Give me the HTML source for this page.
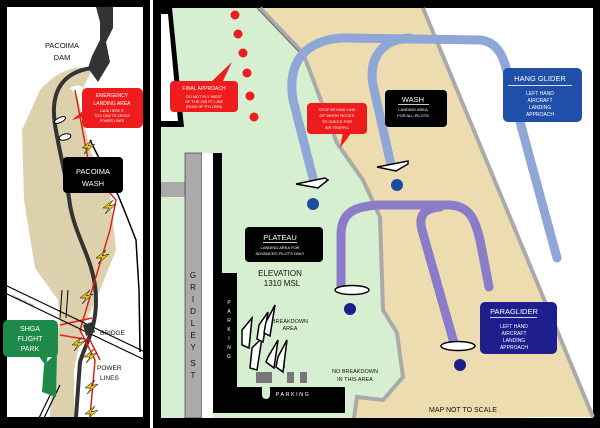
<!DOCTYPE html>
<html><head><meta charset="utf-8"><style>
html,body{margin:0;padding:0;background:#000;}
svg{display:block;}
text{font-family:"Liberation Sans",sans-serif;}
</style></head><body>
<svg width="600" height="428" viewBox="0 0 600 428" xmlns="http://www.w3.org/2000/svg">
<rect width="600" height="428" fill="#000"/>
<!-- LEFT PANEL -->
<rect x="7" y="7" width="136" height="410" fill="#fff"/>
<path d="M40,90 C55,72 80,62 92,70 L78,98 L90,150 L110,195 L116,250 L100,290 L82,330 L74,370 L74,417 L50,417 L52,370 L60,320 L58,300 L35,268 L24,200 L22,130 Z" fill="#ddd1ad"/>
<path d="M70,88 C80,82 90,88 80,100 Z" fill="#fff"/>
<polygon points="96,7 113,7 113,28 106,42 110,62 98,82 88,68 92,56 100,40 100,22" fill="#333"/>
<path d="M92,68 C62,72 50,92 55,125 C60,155 66,175 70,205 C76,240 96,262 96,300 C96,330 86,342 80,362 L76,417" fill="none" stroke="#333" stroke-width="4"/>
<path d="M90,140 L100,160 L118,195 L125,212 L136,240 L139,290 L140,352" fill="none" stroke="#000" stroke-width="1.5"/>
<path d="M75,90 L90,170 L116,200 L110,230 L80,330 L95,360 L90,417 M60,325 L92,318 M60,335 L90,340 L100,360" fill="none" stroke="#e0201e" stroke-width="1.5"/>
<!-- streets -->
<path d="M5,285 L145,352 M5,293 L145,360" stroke="#000" stroke-width="1.2"/>
<path d="M60,318 L62,290 M66,318 L68,290" stroke="#000" stroke-width="1"/>
<path d="M38,420 L55,385 M43,420 L60,385" stroke="#000" stroke-width="1.2"/>
<polygon points="44,365 57,352 56,397 42,392" fill="#1e8a4a"/>
<polygon points="83,325 92,322 95,332 86,336" fill="#333"/>
<!-- bolts -->
<g fill="#e8c21a" stroke="#000" stroke-width="0.5">
<polygon points="82,148 92,140 88,146 95,144 84,154 88,148"/>
<polygon points="103,208 113,200 109,206 116,204 105,214 109,208"/>
<polygon points="96,258 106,250 102,256 109,254 98,264 102,258"/>
<polygon points="80,298 90,290 86,296 93,294 82,304 86,298"/>
<polygon points="72,345 82,337 78,343 85,341 74,351 78,345"/>
<polygon points="84,357 94,349 90,355 97,353 86,363 90,357"/>
<polygon points="85,388 95,380 91,386 98,384 87,394 91,388"/>
<polygon points="85,414 95,406 91,412 98,410 87,420 91,414"/>
</g>
<ellipse cx="60" cy="120" rx="6" ry="2.5" fill="#fff" stroke="#000" transform="rotate(-25 60 120)"/>
<ellipse cx="65" cy="137" rx="6" ry="3" fill="#fff" stroke="#000" transform="rotate(-15 65 137)"/>
<text x="62" y="48" font-size="7.5" text-anchor="middle" fill="#111">PACOIMA</text>
<text x="62" y="60" font-size="7.5" text-anchor="middle" fill="#111">DAM</text>
<rect x="82" y="88" width="61" height="40" rx="5" fill="#ee1c1c"/>
<polygon points="84,110 72,120 90,115" fill="#ee1c1c"/>
<text x="112" y="97" font-size="5" text-anchor="middle" fill="#fff">EMERGENCY</text>
<text x="112" y="105" font-size="5" text-anchor="middle" fill="#fff">LANDING AREA</text>
<text x="112" y="112" font-size="3.5" text-anchor="middle" fill="#fff">LAND HERE IF</text>
<text x="112" y="117" font-size="3.5" text-anchor="middle" fill="#fff">TOO LOW TO CROSS</text>
<text x="112" y="122" font-size="3.5" text-anchor="middle" fill="#fff">POWER LINES</text>
<rect x="63" y="157" width="60" height="36" rx="4" fill="#000"/>
<text x="93" y="174" font-size="7.5" text-anchor="middle" fill="#fff">PACOIMA</text>
<text x="93" y="186" font-size="7.5" text-anchor="middle" fill="#fff">WASH</text>
<rect x="3" y="320" width="55" height="37" rx="5" fill="#1e8a4a"/>
<polygon points="38,355 48,355 46,366" fill="#1e8a4a"/>
<text x="30" y="331" font-size="7" text-anchor="middle" fill="#fff">SHGA</text>
<text x="30" y="341" font-size="7" text-anchor="middle" fill="#fff">FLIGHT</text>
<text x="30" y="351" font-size="7" text-anchor="middle" fill="#fff">PARK</text>
<text x="100" y="335" font-size="6.5" fill="#111">BRIDGE</text>
<text x="97" y="370" font-size="6.5" fill="#111">POWER</text>
<text x="100" y="380" font-size="6.5" fill="#111">LINES</text>
<text x="12" y="297" font-size="3" fill="#111" transform="rotate(25 12 297)">GLENOAKS AVE</text>
<!-- RIGHT PANEL -->
<rect x="150" y="0" width="3" height="428" fill="#fff"/>
<rect x="161" y="8" width="432" height="410" fill="#fff"/>
<path d="M161,8 L260,8 L303,53 L337,143 L363,180 L380,217 L383,310 L397,333 L403,377 L383,400 L357,397 L352,418 L161,418 Z" fill="#d6efd0"/>
<path d="M260,8 L423,8 L593,417 L352,418 L357,397 L383,400 L403,377 L397,333 L383,310 L380,217 L363,180 L337,143 L303,53 Z" fill="#ecdcb0"/>
<path d="M260,8 L303,53 L337,143 L363,180 L380,217 L383,310 L397,333 L403,377 L383,400 L357,397 L354,418" fill="none" stroke="#aaa" stroke-width="4"/>
<path d="M423,8 L593,417" stroke="#aaa" stroke-width="4"/>
<path d="M257,8 L300,53" stroke="#666" stroke-width="1"/>
<!-- left black shapes -->
<polygon points="161,8 172,8 184,127 161,127" fill="#000"/>
<polygon points="161,14 168,14 178,121 161,121" fill="#fff"/>
<rect x="161" y="182" width="26" height="15" fill="#aaa"/>
<rect x="185" y="153" width="17" height="265" fill="#aaa" stroke="#000" stroke-width="0.5"/>
<rect x="202" y="153" width="11" height="265" fill="#fff"/>
<polygon points="213,153 222,153 222,273 237,273 237,387 345,387 345,413 213,413" fill="#000"/>
<path d="M262,387 L270,387 L270,395 A4,4 0 0 1 262,395 Z" fill="#d6efd0"/>
<rect x="256" y="372" width="16" height="11" fill="#777"/>
<rect x="287" y="372" width="7" height="11" fill="#777"/>
<rect x="300" y="372" width="7" height="11" fill="#777"/>
<rect x="279" y="365" width="6" height="3" fill="#777"/>
<text x="293" y="396" font-size="5.5" text-anchor="middle" fill="#fff" letter-spacing="1.5">PARKING</text>
<g font-size="5" fill="#fff" text-anchor="middle">
<text x="229" y="304">P</text><text x="229" y="313">A</text><text x="229" y="322">R</text><text x="229" y="331">K</text><text x="229" y="340">I</text><text x="229" y="349">N</text><text x="229" y="358">G</text></g>
<g font-size="8" fill="#111" text-anchor="middle">
<text x="193" y="278">G</text><text x="193" y="290">R</text><text x="193" y="302">I</text><text x="193" y="314">D</text><text x="193" y="326">L</text><text x="193" y="338">E</text><text x="193" y="350">Y</text><text x="193" y="366">S</text><text x="193" y="378">T</text></g>
<!-- red dots -->
<g fill="#ee1c1c"><circle cx="235" cy="15" r="4.5"/><circle cx="238" cy="34" r="4.5"/><circle cx="243" cy="53" r="4.5"/><circle cx="247" cy="73" r="4.5"/><circle cx="250" cy="96" r="4.5"/><circle cx="254" cy="117" r="4.5"/></g>
<!-- hang glider paths -->
<path d="M313,178 L293,100 C285,50 320,38 345,38 L480,40 C500,42 505,60 510,85 L557,258" fill="none" stroke="#8fa7d6" stroke-width="9" stroke-linecap="round"/>
<path d="M391,165 L373,85 C368,55 385,39 410,38" fill="none" stroke="#8fa7d6" stroke-width="9" stroke-linecap="round"/>
<!-- paraglider paths -->
<path d="M341,287 L341,235 C341,212 355,206 380,205 L450,205 C470,206 475,220 480,240 L489,287" fill="none" stroke="#8a7cc8" stroke-width="9" stroke-linecap="round"/>
<path d="M454,343 L422,230 C418,215 425,208 440,207" fill="none" stroke="#8a7cc8" stroke-width="9" stroke-linecap="round"/>
<!-- gliders -->
<g fill="#fff" stroke="#000" stroke-width="1.5">
<path d="M296,184 L325,178 L328,180 L318,188 Z"/>
<path d="M377,167 L408,161 L408,164 L396,171 Z"/>
<ellipse cx="352" cy="290" rx="17" ry="4.5"/>
<ellipse cx="458" cy="346" rx="17" ry="4.5"/>
</g>
<circle cx="313" cy="204" r="6" fill="#1a4fa0"/>
<circle cx="397" cy="185" r="6" fill="#1a4fa0"/>
<circle cx="350" cy="309" r="6" fill="#1e1e8c"/>
<circle cx="460" cy="365" r="6" fill="#1e1e8c"/>
<!-- breakdown gliders -->
<g fill="#fff" stroke="#000" stroke-width="1.5">
<polygon points="252,348 262,338 257,370 250,368"/>
<polygon points="259,325 268,312 263,342 257,339"/>
<polygon points="266,322 275,305 270,336 264,333"/>
<polygon points="268,357 278,340 274,368 266,362"/>
<polygon points="278,357 287,340 283,372 276,367"/>
<polygon points="242,330 252,318 249,348 242,345"/>
</g>
<text x="290" y="323" font-size="5.5" text-anchor="middle" fill="#111">BREAKDOWN</text>
<text x="290" y="330" font-size="5.5" text-anchor="middle" fill="#111">AREA</text>
<text x="355" y="373" font-size="5.5" text-anchor="middle" fill="#111">NO BREAKDOWN</text>
<text x="355" y="381" font-size="5.5" text-anchor="middle" fill="#111">IN THIS AREA</text>
<text x="463" y="412" font-size="7" text-anchor="middle" fill="#111">MAP NOT TO SCALE</text>
<text x="280" y="276" font-size="8" text-anchor="middle" fill="#111">ELEVATION</text>
<text x="282" y="286" font-size="8" text-anchor="middle" fill="#111">1310 MSL</text>
<!-- labels -->
<rect x="170" y="81" width="68" height="31" rx="4" fill="#ee1c1c"/>
<polygon points="210,83 232,62 222,83" fill="#ee1c1c"/>
<text x="204" y="90" font-size="5" text-anchor="middle" fill="#fff">FINAL APPROACH</text>
<text x="204" y="98" font-size="4" text-anchor="middle" fill="#fff">DO NOT FLY WEST</text>
<text x="204" y="103" font-size="4" text-anchor="middle" fill="#fff">OF THE 200 FT LINE</text>
<text x="204" y="108" font-size="4" text-anchor="middle" fill="#fff">(ROW OF PYLONS)</text>
<rect x="307" y="103" width="60" height="31" rx="4" fill="#ee1c1c"/>
<polygon points="343,132 340,148 352,132" fill="#ee1c1c"/>
<text x="337" y="111" font-size="4" text-anchor="middle" fill="#fff">STOP BEHIND LINE</text>
<text x="337" y="117" font-size="4" text-anchor="middle" fill="#fff">OF WHITE ROCKS</text>
<text x="337" y="123" font-size="4" text-anchor="middle" fill="#fff">TO CHECK FOR</text>
<text x="337" y="129" font-size="4" text-anchor="middle" fill="#fff">AIR TRAFFIC</text>
<rect x="385" y="90" width="62" height="37" rx="4" fill="#000"/>
<text x="413" y="102" font-size="7.5" text-anchor="middle" fill="#fff">WASH</text>
<rect x="398" y="104" width="31" height="0.8" fill="#fff"/>
<text x="413" y="111" font-size="4" text-anchor="middle" fill="#fff">LANDING AREA</text>
<text x="413" y="117" font-size="4" text-anchor="middle" fill="#fff">FOR ALL PILOTS</text>
<rect x="503" y="68" width="79" height="54" rx="5" fill="#1f4fa8"/>
<text x="540" y="81" font-size="7.5" text-anchor="middle" fill="#fff">HANG GLIDER</text>
<rect x="508" y="85" width="64" height="0.8" fill="#fff"/>
<text x="540" y="95" font-size="5" text-anchor="middle" fill="#fff">LEFT HAND</text>
<text x="540" y="102" font-size="5" text-anchor="middle" fill="#fff">AIRCRAFT</text>
<text x="540" y="109" font-size="5" text-anchor="middle" fill="#fff">LANDING</text>
<text x="540" y="116" font-size="5" text-anchor="middle" fill="#fff">APPROACH</text>
<rect x="245" y="227" width="78" height="35" rx="4" fill="#000"/>
<text x="280" y="240" font-size="7.5" text-anchor="middle" fill="#fff">PLATEAU</text>
<rect x="263" y="242" width="34" height="0.8" fill="#fff"/>
<text x="280" y="249" font-size="4" text-anchor="middle" fill="#fff">LANDING AREA FOR</text>
<text x="280" y="255" font-size="4" text-anchor="middle" fill="#fff">ADVANCED PILOTS ONLY</text>
<rect x="480" y="302" width="77" height="52" rx="5" fill="#1e1e8c"/>
<text x="514" y="314" font-size="7.5" text-anchor="middle" fill="#fff">PARAGLIDER</text>
<rect x="490" y="317" width="47" height="0.8" fill="#fff"/>
<text x="514" y="328" font-size="5" text-anchor="middle" fill="#fff">LEFT HAND</text>
<text x="514" y="335" font-size="5" text-anchor="middle" fill="#fff">AIRCRAFT</text>
<text x="514" y="342" font-size="5" text-anchor="middle" fill="#fff">LANDING</text>
<text x="514" y="349" font-size="5" text-anchor="middle" fill="#fff">APPROACH</text>
</svg>
</body></html>
